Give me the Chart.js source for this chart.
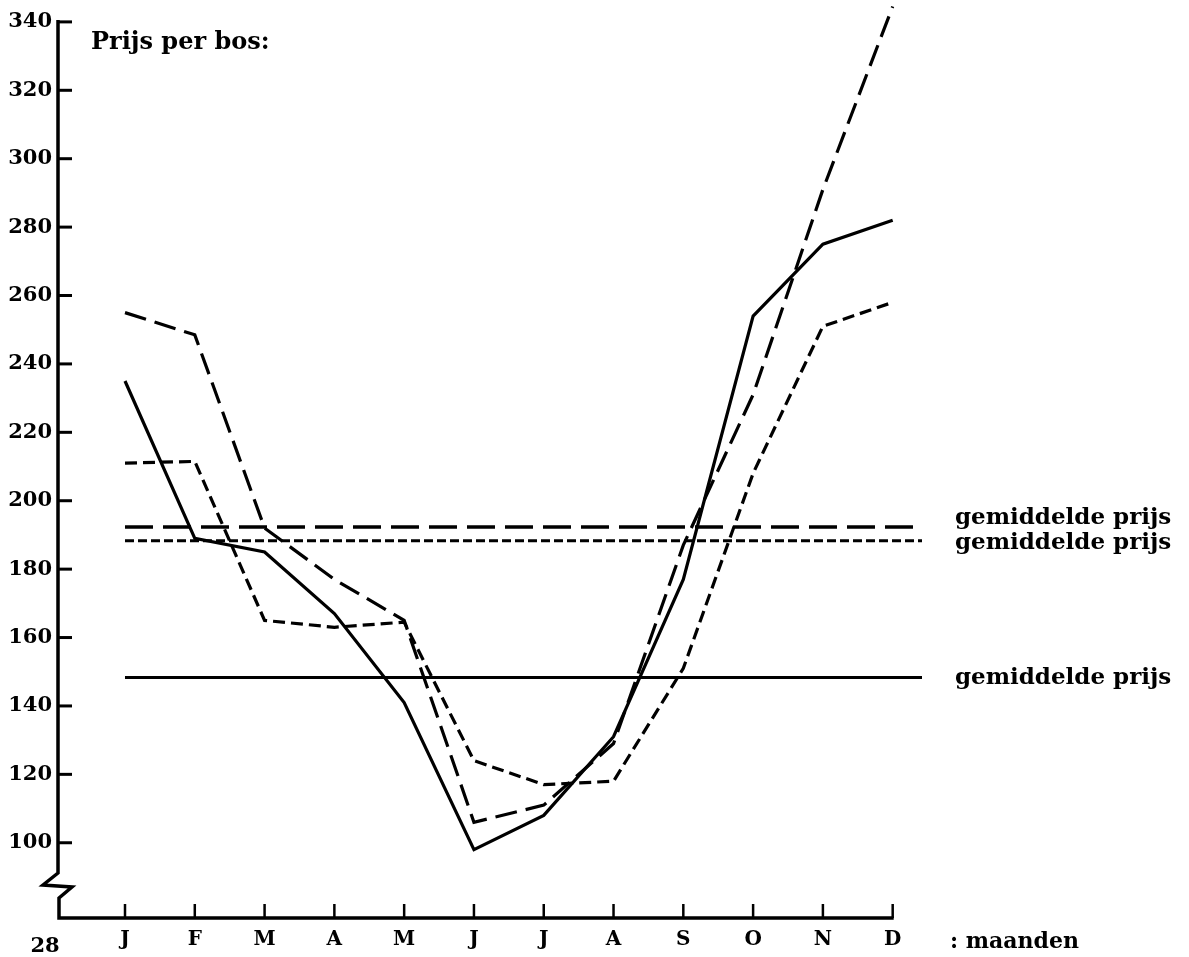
<!DOCTYPE html>
<html>
<head>
<meta charset="utf-8">
<script src="https://cdn.jsdelivr.net/npm/chart.js@4"></script>
<style>
    html, body { margin: 0; padding: 0; background: #fff; }
    #wrap { width: 1189px; height: 957px; position: relative; }
</style>
</head>
<body>
<div id="wrap"><canvas id="pricechart"></canvas></div>
<script>
// months on the x axis
const months = ["J", "F", "M", "A", "M", "J", "J", "A", "S", "O", "N", "D"];
const yTicks = [100, 120, 140, 160, 180, 200, 220, 240, 260, 280, 300, 320, 340];

// price per bunch
const solidPrices = [235, 189, 185, 167, 141, 98, 108, 131, 177, 254, 275, 282];
const longDashPrices = [255, 248.5, 192, 177, 165, 106, 111, 129, 187, 231, 291, 344.5];
const shortDashPrices = [211, 211.5, 165, 163, 164.5, 124, 117, 118, 151, 208, 251, 258];

// average price lines
const avgLongDash = 192.3;
const avgShortDash = 188.3;
const avgSolid = 148.3;
const avgLabel = "gemiddelde prijs";
const avgLineEnd = 11.42;

const serif = "'DejaVu Serif', 'Liberation Serif', serif";

function series(values) {
    return values.map((v, i) => ({ x: i, y: v }));
}
function flat(v) {
    return [{ x: 0, y: v }, { x: avgLineEnd, y: v }];
}

const paperAxes = {
    id: "paperAxes",
    afterDraw(chart) {
        const { ctx, chartArea, scales } = chart;
        const x = scales.x, y = scales.y;
        const x0 = chartArea.left, y0 = chartArea.bottom;
        ctx.save();
        ctx.strokeStyle = "#000";
        ctx.lineJoin = "miter";

        // y axis with break, then x axis up to D
        ctx.lineWidth = 3.5;
        ctx.beginPath();
        ctx.moveTo(x0, y.getPixelForValue(340) - 2);
        ctx.lineTo(x0, y0 - 45);
        ctx.lineTo(x0 - 15, y0 - 33);
        ctx.lineTo(x0 + 14, y0 - 31);
        ctx.lineTo(x0 + 1, y0 - 20);
        ctx.lineTo(x0 + 1, y0);
        ctx.lineTo(x.getPixelForValue(11) + 1, y0);
        ctx.stroke();

        ctx.lineWidth = 3;
        yTicks.forEach(v => {
            const py = y.getPixelForValue(v);
            ctx.beginPath();
            ctx.moveTo(x0, py);
            ctx.lineTo(x0 + 14, py);
            ctx.stroke();
        });
        ctx.lineWidth = 2.5;
        months.forEach((m, i) => {
            const px = x.getPixelForValue(i);
            ctx.beginPath();
            ctx.moveTo(px, y0);
            ctx.lineTo(px, y0 - 14);
            ctx.stroke();
        });

        ctx.fillStyle = "#000";
        ctx.textBaseline = "middle";
        ctx.textAlign = "center";
        ctx.font = "bold 21px " + serif;
        ctx.fillText("28", x0 - 13, y0 + 29);
        ctx.textAlign = "left";
        ctx.font = "bold 24px " + serif;
        ctx.fillText("Prijs per bos:", x0 + 33, y.getPixelForValue(340) + 21);
        ctx.font = "bold 22px " + serif;
        ctx.fillText(": maanden", chartArea.right + 28, y0 + 24);
        ctx.font = "bold 23px " + serif;
        ctx.fillText(avgLabel, chartArea.right + 33, y.getPixelForValue(avgLongDash) - 9);
        ctx.fillText(avgLabel, chartArea.right + 33, y.getPixelForValue(avgShortDash) + 2);
        ctx.fillText(avgLabel, chartArea.right + 33, y.getPixelForValue(avgSolid));
        ctx.restore();
    }
};

const ctx = document.getElementById("pricechart").getContext("2d");
new Chart(ctx, {
    type: "line",
    data: {
        datasets: [
            { data: series(solidPrices), borderColor: "#000", borderWidth: 3.2 },
            { data: series(longDashPrices), borderColor: "#000", borderWidth: 3.2, borderDash: [22, 9] },
            { data: series(shortDashPrices), borderColor: "#000", borderWidth: 3.2, borderDash: [12, 6] },
            { data: flat(avgLongDash), borderColor: "#000", borderWidth: 3.5, borderDash: [28, 10] },
            { data: flat(avgShortDash), borderColor: "#000", borderWidth: 3, borderDash: [9, 4] },
            { data: flat(avgSolid), borderColor: "#000", borderWidth: 3 }
        ]
    },
    options: {
        responsive: true,
        maintainAspectRatio: false,
        animation: false,
        layout: { padding: { top: 0, right: 267, bottom: 0, left: 0 } },
        elements: { point: { radius: 0 }, line: { tension: 0, fill: false } },
        plugins: { legend: { display: false }, tooltip: { enabled: false } },
        scales: {
            x: {
                type: "linear",
                min: -0.96,
                max: avgLineEnd,
                grid: { display: false, drawTicks: false },
                border: { display: false },
                afterBuildTicks: scale => { scale.ticks = months.map((m, i) => ({ value: i })); },
                afterFit: scale => {
                    scale.height = 39;
                    scale.paddingLeft = 0;
                    scale.paddingRight = 0;
                },
                ticks: {
                    callback: value => months[value],
                    color: "#000",
                    font: { family: serif, size: 20, weight: "bold" },
                    padding: 10,
                    autoSkip: false,
                    maxRotation: 0
                }
            },
            y: {
                min: 78,
                max: 346.4,
                grid: { display: false, drawTicks: false },
                border: { display: false },
                afterBuildTicks: scale => { scale.ticks = yTicks.map(v => ({ value: v })); },
                afterFit: scale => {
                    scale.width = 58;
                    scale.paddingTop = 0;
                    scale.paddingBottom = 0;
                },
                ticks: {
                    color: "#000",
                    font: { family: serif, size: 21, weight: "bold" },
                    padding: 6
                }
            }
        }
    },
    plugins: [paperAxes]
});
</script>
</body>
</html>
